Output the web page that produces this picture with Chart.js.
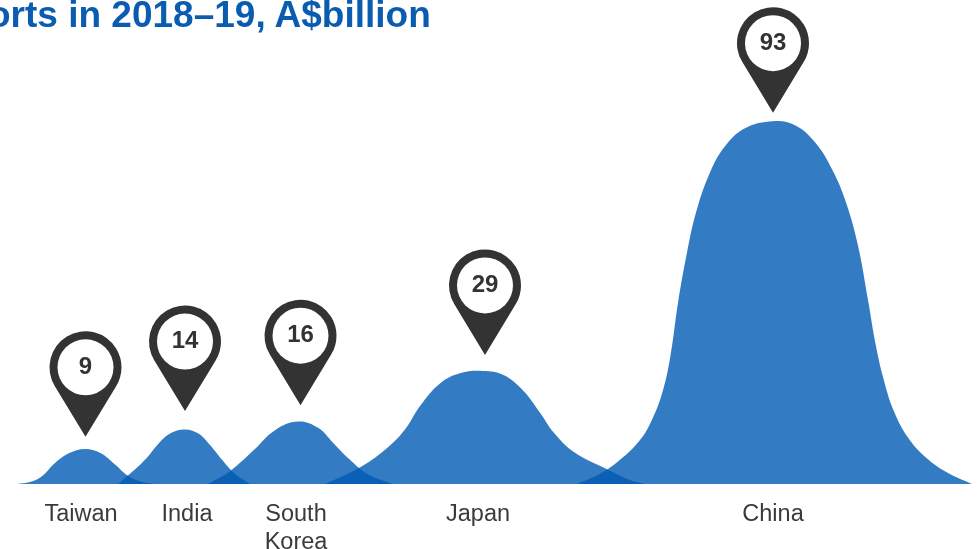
<!DOCTYPE html>
<html lang="en">

<head>
    <meta charset="UTF-8">
    <title>Exports in 2018–19</title>
    <script src="https://cdn.jsdelivr.net/npm/chart.js"></script>
    <style>
        html, body {
            margin: 0;
            padding: 0;
            background: #fff;
            overflow: hidden;
        }

        #wrap {
            position: relative;
            width: 977px;
            height: 549px;
        }

        #heading {
            position: absolute;
            left: -12px;
            top: -4px;
            margin: 0;
            font: bold 37px/37px "Liberation Sans", Arial, sans-serif;
            color: #0a5cb0;
            white-space: nowrap;
        }
    </style>
</head>

<body>
    <div id="wrap">
        <canvas id="hills" width="977" height="549"></canvas>
        <h1 id="heading">orts in 2018–19, A$billion</h1>
    </div>

    <script>
        const categories = ["Taiwan", "India", ["South", "Korea"], "Japan", "China"];
        const exportValues = [9, 14, 16, 29, 93];
        const labelX = [81, 187, 296, 478, 773];

        // Hill outlines, A$billion against distance along the axis
        const taiwanX = [17, 30, 42, 55, 70, 85, 100, 115, 128, 142, 155];
        const taiwanY = [0, 0.5, 2, 5.4, 8, 9, 8, 5, 2.1, 0.5, 0];
        const indiaX = [118, 130, 145, 160, 172, 185, 198, 210, 222, 235, 250];
        const indiaY = [0, 2.6, 6.2, 10.8, 13.2, 14, 13, 10, 6.2, 2.6, 0];
        const koreaX = [208, 230, 253, 275, 298, 318, 333, 350, 367, 392];
        const koreaY = [0, 3.3, 8.5, 13.8, 16, 14.4, 10.6, 6.2, 2.6, 0];
        const japanX = [325, 358, 385, 405, 420, 440, 460, 483, 503, 523, 540, 555, 575, 607, 630, 645];
        const japanY = [0, 4, 8.8, 14, 20, 25.8, 28.4, 29, 28, 24, 18.3, 12.8, 8, 3.8, 1, 0];
        const chinaX = [577, 600, 620, 640, 652, 662, 670, 678, 686, 696, 710, 725, 745, 773, 795, 815, 832, 846, 858, 868, 876, 884, 894, 908, 925, 948, 972];
        const chinaY = [0, 2.6, 6.2, 11.3, 16.5, 23.2, 32.2, 46.4, 58, 69.6, 79.9, 86.6, 91.2, 93, 92, 87.6, 80.7, 72.2, 61.1, 47.2, 35.3, 26.5, 18.6, 11.9, 7, 2.8, 0];

        // Where each marker's tip sits
        const pinX = [85.5, 185, 300.5, 485, 773];
        const pinTip = [12.1, 18.7, 20.2, 33.1, 95.2];

        const outlines = [
            [taiwanX, taiwanY],
            [indiaX, indiaY],
            [koreaX, koreaY],
            [japanX, japanY],
            [chinaX, chinaY]
        ];

        const pinPlugin = {
            id: "pins",
            afterDatasetsDraw(chart) {
                const ctx = chart.ctx;
                const radius = 36, hole = 28, reach = 69.5;
                // angle where the straight sides leave the circle
                const side = Math.acos(radius / reach);

                exportValues.forEach((value, i) => {
                    const x = chart.scales.x.getPixelForValue(pinX[i]);
                    const tipY = chart.scales.y.getPixelForValue(pinTip[i]);
                    const y = tipY - reach;

                    ctx.save();
                    ctx.fillStyle = "#333333";
                    ctx.beginPath();
                    ctx.arc(x, y, radius, Math.PI / 2 + side, Math.PI / 2 - side);
                    ctx.lineTo(x, tipY);
                    ctx.closePath();
                    ctx.fill();

                    ctx.fillStyle = "#ffffff";
                    ctx.beginPath();
                    ctx.arc(x, y, hole, 0, Math.PI * 2);
                    ctx.fill();

                    ctx.fillStyle = "#333333";
                    ctx.font = 'bold 24px "Liberation Sans", Arial, sans-serif';
                    ctx.textAlign = "center";
                    ctx.textBaseline = "middle";
                    ctx.fillText(String(value), x, y);
                    ctx.restore();
                });
            }
        };

        new Chart(document.getElementById("hills"), {
            type: "line",
            data: {
                datasets: outlines.map(([xs, ys], i) => ({
                    label: Array.isArray(categories[i]) ? categories[i].join(" ") : categories[i],
                    data: xs.map((x, j) => ({ x: x, y: ys[j] })),
                    fill: "origin",
                    backgroundColor: "rgba(0, 90, 180, 0.8)",
                    borderWidth: 0,
                    pointRadius: 0,
                    tension: 0.4
                }))
            },
            options: {
                responsive: false,
                animation: false,
                plugins: {
                    legend: { display: false },
                    tooltip: { enabled: false }
                },
                scales: {
                    x: {
                        type: "linear",
                        min: 0,
                        max: 977,
                        grid: { display: false },
                        border: { display: false },
                        afterBuildTicks(axis) {
                            axis.ticks = labelX.map(v => ({ value: v }));
                        },
                        afterFit(axis) {
                            axis.height = 65;
                        },
                        ticks: {
                            autoSkip: false,
                            maxRotation: 0,
                            padding: 8,
                            color: "#3a3a3a",
                            font: { family: '"Liberation Sans", Arial, sans-serif', size: 23.5, lineHeight: 1.22 },
                            callback: (value, index) => categories[index]
                        }
                    },
                    y: {
                        display: false,
                        min: 0,
                        max: 124.1
                    }
                }
            },
            plugins: [pinPlugin]
        });
    </script>
</body>

</html>
